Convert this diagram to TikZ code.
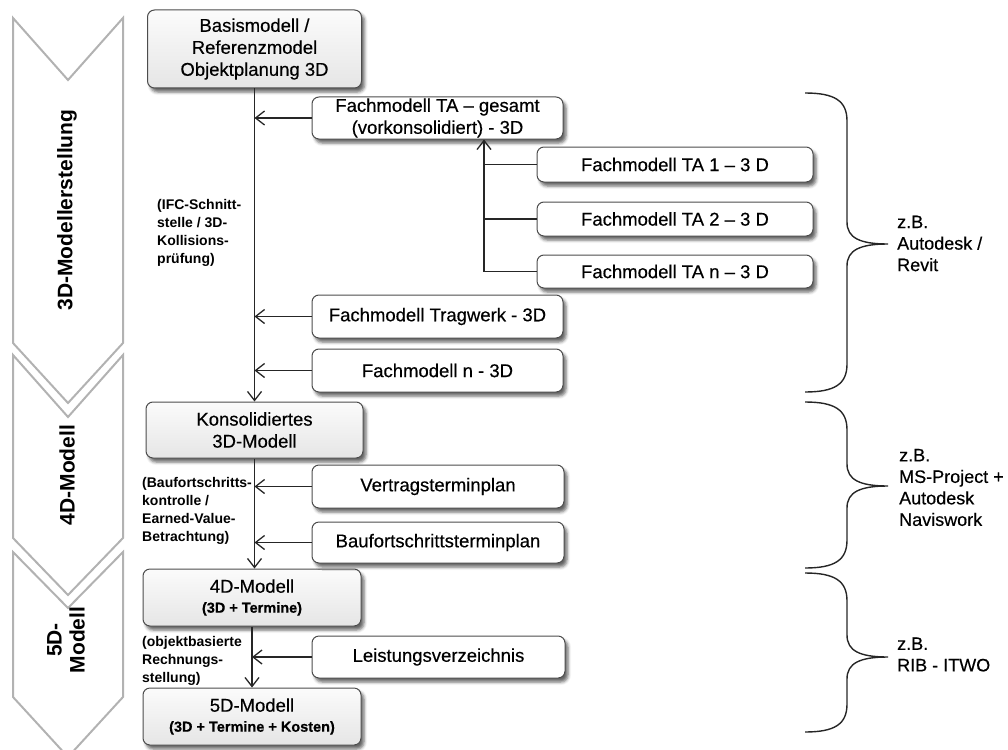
\documentclass[tikz,border=0pt]{standalone}
\usepackage{fontspec}
\setmainfont{Liberation Sans}
\newfontfamily\labelfont{Liberation Sans}[FakeBold=0.4]
\usetikzlibrary{arrows.meta,shadows.blur}

\begin{document}
\begin{tikzpicture}[x=1pt,y=-1pt,
  box/.style={draw=black!70, line width=1pt, rounded corners=7pt, fill=white,
    blur shadow={shadow xshift=3pt, shadow yshift=-4pt, shadow blur radius=3pt, shadow opacity=60},
    inner sep=0pt, align=center, font=\labelfont\fontsize{18.5}{22}\selectfont},
  mainbox/.style={box, top color=gray!3, bottom color=gray!20},
  flow/.style={draw=black!85, line width=1.3pt},
  arr/.style={flow, -{Straight Barb[length=9pt,width=14pt]}},
  note/.style={anchor=west, align=left, inner sep=0pt, font=\bfseries\fontsize{14}{18}\selectfont},
  tool/.style={anchor=west, align=left, inner sep=0pt, font=\labelfont\fontsize{18}{21.5}\selectfont},
  phase/.style={draw=gray!60, line width=2pt, line join=miter},
  phasetext/.style={rotate=90, align=center, font=\bfseries\fontsize{21}{23}\selectfont},
  brace/.style={draw=black!85, line width=1.4pt}
]
\useasboundingbox (0,0) rectangle (1008,749);
\clip (0,0) rectangle (1008,749);

% phase chevrons
\draw[phase] (13,18) -- (68,80) -- (123,18) -- (123,343) -- (68,403) -- (13,343) -- cycle;
\draw[phase] (13,355) -- (68,417) -- (123,355) -- (123,538) -- (68,595) -- (13,538) -- cycle;
\draw[phase] (13,552) -- (68,608) -- (123,552) -- (123,697) -- (68,757) -- (13,697) -- cycle;
\node[phasetext] (p3d) at (67,210) {3D-Modellerstellung};
\node[phasetext] (p4d) at (67,475) {4D-Modell};
\node[phasetext] (p5d) at (66,640) {5D-\\Modell};

% model chain
\node[mainbox, minimum width=214, minimum height=78] (basis) at (254.5,49)
  {Basismodell /\\Referenzmodel\\Objektplanung 3D};
\node[mainbox, minimum width=217, minimum height=56] (kons) at (254.5,430)
  {Konsolidiertes\\3D-Modell};
\node[mainbox, minimum width=218, minimum height=57] (m4d) at (252,597.5)
  {4D-Modell\\[-2pt]{\bfseries\fontsize{14.5}{17}\selectfont(3D + Termine)}};
\node[mainbox, minimum width=218, minimum height=57] (m5d) at (252,716.5)
  {5D-Modell\\[-2pt]{\bfseries\fontsize{14.5}{17}\selectfont(3D + Termine + Kosten)}};

% input models
\node[box, minimum width=251, minimum height=42] (tagesamt) at (437.5,118)
  {Fachmodell TA – gesamt\\(vorkonsolidiert) - 3D};
\node[box, minimum width=276, minimum height=35] (ta1) at (675,164.5) {Fachmodell TA 1 – 3 D};
\node[box, minimum width=276, minimum height=34] (ta2) at (675,219) {Fachmodell TA 2 – 3 D};
\node[box, minimum width=276, minimum height=33] (tan) at (675,271.5) {Fachmodell TA n – 3 D};
\node[box, minimum width=251, minimum height=43] (tragwerk) at (437.5,316.5) {Fachmodell Tragwerk - 3D};
\node[box, minimum width=251, minimum height=43] (fachn) at (437.5,370.5) {Fachmodell n - 3D};
\node[box, minimum width=252, minimum height=43] (vertrag) at (438,486.5) {Vertragsterminplan};
\node[box, minimum width=252, minimum height=41] (baufort) at (438,542.5) {Baufortschrittsterminplan};
\node[box, minimum width=253, minimum height=42] (leist) at (438.5,657) {Leistungsverzeichnis};

% main flow
\draw[arr] (basis.south) -- (basis.south |- kons.north);
\draw[arr] (kons.south) -- (kons.south |- m4d.north);
\draw[arr] (m4d.south) -- (m4d.south |- m5d.north);

\draw[arr] (tagesamt.west) -- (tagesamt.west -| basis.south);
\draw[arr] (tragwerk.west) -- (tragwerk.west -| basis.south);
\draw[arr] (fachn.west) -- (fachn.west -| basis.south);
\draw[arr] (vertrag.west) -- (vertrag.west -| kons.south);
\draw[arr] (baufort.west) -- (baufort.west -| kons.south);
\draw[arr] (leist.west) -- (leist.west -| m4d.south);

% TA sub-models collected
\coordinate (hub) at (484,271.5);
\draw[arr] (tan.west) -- (hub) -- (hub |- tagesamt.south);
\draw[flow] (ta1.west) -- (ta1.west -| hub);
\draw[flow] (ta2.west) -- (ta2.west -| hub);

% annotations
\node[note] (ifc) at (157,233) {(IFC-Schnitt-\\stelle / 3D-\\Kollisions-\\prüfung)};
\node[note] (evm) at (142,511) {(Baufortschritts-\\kontrolle /\\Earned-Value-\\Betrachtung)};
\node[note] (obj) at (142,661) {(objektbasierte\\Rechnungs-\\stellung)};

% software braces
\draw[brace] (805,93) .. controls (835,93) and (847,101) .. (847,121)
  -- (847,222) .. controls (847,238) and (860,244) .. (888,244)
  .. controls (860,244) and (847,250) .. (847,266)
  -- (847,364) .. controls (847,384) and (835,392) .. (805,392);
\draw[brace] (805,402) .. controls (835,402) and (847,410) .. (847,430)
  -- (847,464) .. controls (847,480) and (860,486) .. (888,486)
  .. controls (860,486) and (847,492) .. (847,508)
  -- (847,540) .. controls (847,560) and (835,568) .. (805,568);
\draw[brace] (805,573) .. controls (835,573) and (847,581) .. (847,601)
  -- (847,635) .. controls (847,651) and (860,657) .. (888,657)
  .. controls (860,657) and (847,663) .. (847,679)
  -- (847,704) .. controls (847,724) and (835,732) .. (805,732);

\node[tool] (sw3d) at (897,243.5) {z.B.\\Autodesk /\\Revit};
\node[tool] (sw4d) at (899,487.5) {z.B.\\MS-Project +\\Autodesk\\Naviswork};
\node[tool] (sw5d) at (897,654.5) {z.B.\\RIB - ITWO};
\end{tikzpicture}
\end{document}
